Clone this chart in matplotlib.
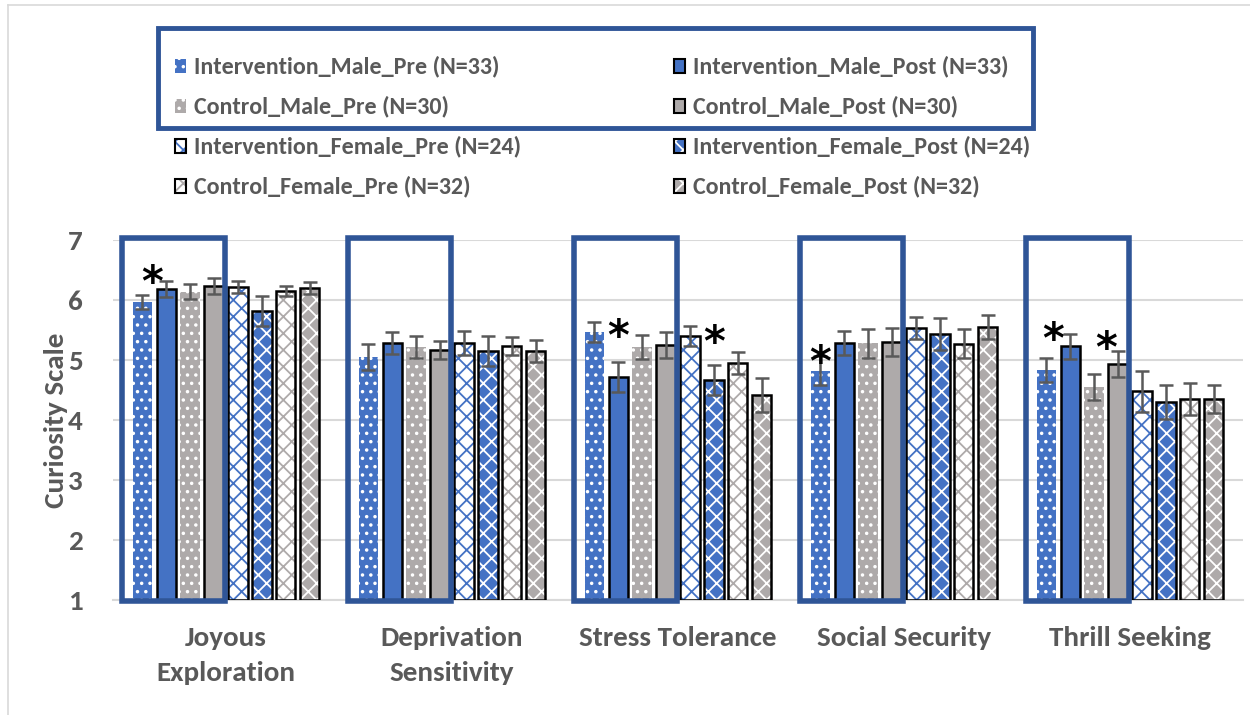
import numpy as np
import matplotlib.pyplot as plt
from matplotlib.patches import Rectangle
from matplotlib.lines import Line2D

plt.rcParams['font.family'] = ['Carlito', 'Open Sans Condensed', 'DejaVu Sans']

categories = ['Joyous\nExploration', 'Deprivation\nSensitivity', 'Stress Tolerance',
              'Social Security', 'Thrill Seeking']
series = ['Intervention_Male_Pre (N=33)', 'Intervention_Male_Post (N=33)',
          'Control_Male_Pre (N=30)', 'Control_Male_Post (N=30)',
          'Intervention_Female_Pre (N=24)', 'Intervention_Female_Post (N=24)',
          'Control_Female_Pre (N=32)', 'Control_Female_Post (N=32)']

# means per series, one value per category
im_pre = [5.97, 5.05, 5.47, 4.82, 4.83]
im_post = [6.18, 5.28, 4.72, 5.28, 5.23]
cm_pre = [6.14, 5.22, 5.22, 5.28, 4.55]
cm_post = [6.23, 5.17, 5.25, 5.30, 4.93]
if_pre = [6.22, 5.28, 5.40, 5.53, 4.48]
if_post = [5.82, 5.15, 4.67, 5.43, 4.30]
cf_pre = [6.15, 5.23, 4.95, 5.27, 4.35]
cf_post = [6.20, 5.15, 4.42, 5.55, 4.35]

# standard errors
im_pre_err = [0.12, 0.22, 0.17, 0.24, 0.20]
im_post_err = [0.13, 0.18, 0.25, 0.20, 0.21]
cm_pre_err = [0.13, 0.18, 0.20, 0.24, 0.22]
cm_post_err = [0.13, 0.15, 0.21, 0.24, 0.22]
if_pre_err = [0.10, 0.20, 0.17, 0.18, 0.34]
if_post_err = [0.25, 0.25, 0.25, 0.27, 0.29]
cf_pre_err = [0.08, 0.15, 0.18, 0.24, 0.26]
cf_post_err = [0.10, 0.18, 0.28, 0.20, 0.24]

# significance markers: (category, bar slot, y)
stars = [(0, 0.4, 6.27), (2, 1.0, 5.37), (2, 5.0, 5.27), (3, 0.0, 4.93),
         (4, 0.3, 5.32), (4, 2.5, 5.17)]

blue = '#4472C4'
gray = '#AEAAAA'
frame = '#2F5597'
txt = '#595959'

means = [im_pre, im_post, cm_pre, cm_post, if_pre, if_post, cf_pre, cf_post]
errs = [im_pre_err, im_post_err, cm_pre_err, cm_post_err,
        if_pre_err, if_post_err, cf_pre_err, cf_post_err]
# (face, hatch, hatch colour, outlined)
styles = [(blue, '..', 'white', False),
          (blue, None, None, True),
          (gray, '..', 'white', False),
          (gray, None, None, True),
          ('white', 'xx', blue, True),
          (blue, 'xx', 'white', True),
          ('white', 'xx', gray, True),
          (gray, 'xx', 'white', True)]

fig = plt.figure(figsize=(12.5, 7.15), dpi=100)
ax = fig.add_axes([113 / 1250, 1 - 600 / 715, 1130 / 1250, 360 / 715])

x = np.arange(len(categories))
step = 0.106
width = 0.085
plt.rcParams['hatch.linewidth'] = 1.3

for i, (vals, err, st) in enumerate(zip(means, errs, styles)):
    face, hatch, hcol, outlined = st
    pos = x + (i - 3.5) * step
    bottoms = np.ones(len(vals))
    heights = np.array(vals) - 1
    ax.bar(pos, heights, width, bottom=bottoms, color=face, linewidth=0, zorder=2)
    if hatch:
        ax.bar(pos, heights, width, bottom=bottoms, color='none', edgecolor=hcol,
               hatch=hatch, linewidth=0, zorder=3)
    if outlined:
        ax.bar(pos, heights, width, bottom=bottoms, color='none', edgecolor='black',
               linewidth=1.8, zorder=4)
    ax.errorbar(pos, vals, yerr=err, fmt='none', ecolor=txt, elinewidth=1.8,
                capsize=5, capthick=1.8, zorder=5)

for c, slot, yv in stars:
    ax.text(c + (slot - 3.5) * step, yv, '*', ha='center', va='center',
            fontsize=30, fontweight='bold', color='black', zorder=8,
            family='DejaVu Sans')

# highlight boxes round the male bars
for c in x:
    x0 = c + (-0.85 - 3.5) * step
    x1 = c + (3.45 - 3.5) * step
    ax.add_patch(Rectangle((x0, 0.98), x1 - x0, 7.04 - 0.98, fill=False,
                           edgecolor=frame, linewidth=4, clip_on=False, zorder=7))

ax.set_xlim(-0.5, 4.5)
ax.set_ylim(1, 7)
ax.set_yticks(range(1, 8))
ax.set_xticks(x)
ax.set_xticklabels(categories, fontsize=21, fontweight='bold', color=txt,
                   linespacing=1.55)
ax.tick_params(axis='y', labelsize=21, labelcolor=txt, length=0, pad=22)
ax.tick_params(axis='x', length=0, pad=19)
for lab in ax.get_yticklabels():
    lab.set_fontweight('bold')
ax.grid(axis='y', color='#D9D9D9', linewidth=1.5, zorder=0)
ax.set_axisbelow(True)
for s in ['top', 'right', 'left']:
    ax.spines[s].set_visible(False)
ax.spines['bottom'].set_color('#D9D9D9')
ax.spines['bottom'].set_linewidth(1.5)
ax.set_ylabel('Curiosity Scale', fontsize=21, fontweight='bold', color=txt, labelpad=0)

# legend, drawn by hand in two columns
col_x = [175 / 1250, 674 / 1250]
row_y = [1 - 66 / 715, 1 - 106 / 715, 1 - 146 / 715, 1 - 186 / 715]
for i, (name, st) in enumerate(zip(series, styles)):
    face, hatch, hcol, outlined = st
    cx = col_x[i % 2]
    cy = row_y[i // 2]
    hw, hh = 11 / 1250, 14 / 715
    fig.add_artist(Rectangle((cx, cy - hh / 2), hw, hh, facecolor=face, linewidth=0,
                             transform=fig.transFigure))
    if hatch:
        fig.add_artist(Rectangle((cx, cy - hh / 2), hw, hh, facecolor='none',
                                 edgecolor=hcol, hatch=hatch, linewidth=0,
                                 transform=fig.transFigure))
    if outlined:
        fig.add_artist(Rectangle((cx, cy - hh / 2), hw, hh, facecolor='none',
                                 edgecolor='black', linewidth=1.5,
                                 transform=fig.transFigure))
    fig.text(cx + 19 / 1250, cy, name, ha='left', va='center', fontsize=17.3,
             fontweight='bold', color=txt)

fig.add_artist(Rectangle((158 / 1250, 1 - 128 / 715), 875 / 1250, 100 / 715, fill=False,
                         edgecolor=frame, linewidth=3.5, transform=fig.transFigure))

# chart area border
fig.add_artist(Line2D([8 / 1250, 8 / 1250], [0, 1 - 5 / 715], color='#D9D9D9',
                      linewidth=1.2, transform=fig.transFigure))
fig.add_artist(Line2D([8 / 1250, 1], [1 - 5 / 715, 1 - 5 / 715], color='#D9D9D9',
                      linewidth=1.2, transform=fig.transFigure))

fig.savefig('out.png', dpi=100)
